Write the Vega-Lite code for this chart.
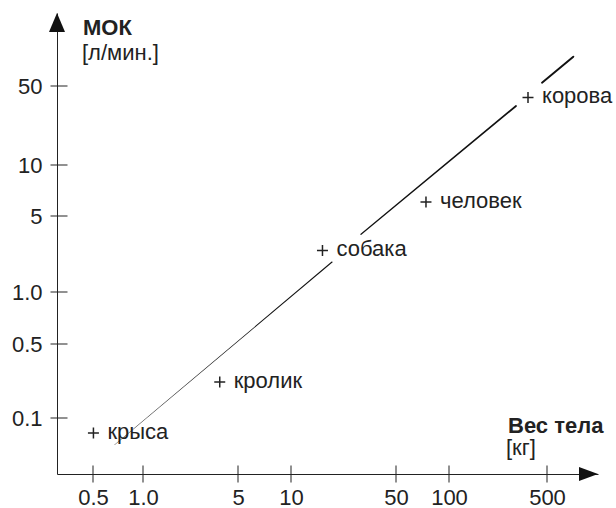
{
  "$schema": "https://vega.github.io/schema/vega-lite/v6.json",
  "width": 541,
  "height": 461,
  "autosize": {"type": "none"},
  "padding": {"left": 57, "top": 13, "right": 18, "bottom": 34},
  "background": "white",
  "config": {
    "view": {"stroke": null},
    "font": "Liberation Sans",
    "axis": {
      "grid": false,
      "ticks": false,
      "tickSize": 0,
      "domainColor": "#222",
      "domainWidth": 1,
      "labelFont": "Liberation Sans",
      "labelFontSize": 22,
      "labelColor": "#222",
      "title": null
    }
  },
  "datasets": {
    "animals": [
      {"name": "крыса", "x": 0.503, "y": 0.0782},
      {"name": "кролик", "x": 3.67, "y": 0.219},
      {"name": "собака", "x": 16.2, "y": 2.41},
      {"name": "человек", "x": 74, "y": 6.05},
      {"name": "корова", "x": 366, "y": 39.6}
    ],
    "line": [
      {"seg": 1, "x": 0.674, "y": 0.0643},
      {"seg": 1, "x": 18.75, "y": 1.888},
      {"seg": 2, "x": 29.24, "y": 3.393},
      {"seg": 2, "x": 300.5, "y": 33.27},
      {"seg": 3, "x": 460.6, "y": 53.2},
      {"seg": 3, "x": 714.9, "y": 87.2}
    ],
    "xticks": [{"x": 0.5}, {"x": 1}, {"x": 5}, {"x": 10}, {"x": 50}, {"x": 100}, {"x": 500}],
    "yticks": [{"y": 0.1}, {"y": 0.5}, {"y": 1}, {"y": 5}, {"y": 10}, {"y": 50}]
  },
  "layer": [
    {
      "data": {"name": "line"},
      "mark": {"type": "trail", "color": "#111"},
      "encoding": {
        "x": {
          "field": "x",
          "type": "quantitative",
          "scale": {
            "type": "log",
            "nice": false,
            "domain": [0.3, 0.5, 1, 5, 10, 50, 100, 500, 1000],
            "range": [0, 36, 86, 181, 234, 339, 392, 490, 541]
          },
          "axis": {
            "values": [0.5, 1, 5, 10, 50, 100, 500],
            "labelExpr": "datum.value == 1 ? '1.0' : datum.value + ''",
            "labelPadding": 13,
            "labelFlush": false,
            "labelOverlap": false
          }
        },
        "y": {
          "field": "y",
          "type": "quantitative",
          "scale": {
            "type": "log",
            "nice": false,
            "domain": [0.04, 0.1, 0.5, 1, 5, 10, 50, 200],
            "range": [461, 405, 331, 279, 203, 152, 73, 0]
          },
          "axis": {
            "values": [0.1, 0.5, 1, 5, 10, 50],
            "labelExpr": "datum.value == 1 ? '1.0' : datum.value + ''",
            "labelPadding": 15,
            "labelFlush": false,
            "labelOverlap": false
          }
        },
        "detail": {"field": "seg", "type": "nominal"},
        "size": {
          "field": "x",
          "type": "quantitative",
          "scale": {"type": "log", "domain": [0.674, 714.9], "range": [0.3, 2]},
          "legend": null
        }
      }
    },
    {
      "data": {"name": "xticks"},
      "mark": {"type": "tick", "orient": "vertical", "size": 17, "thickness": 1, "color": "#222", "opacity": 1},
      "encoding": {
        "x": {"field": "x", "type": "quantitative"},
        "y": {"datum": 0.04, "type": "quantitative"}
      }
    },
    {
      "data": {"name": "yticks"},
      "mark": {"type": "tick", "orient": "horizontal", "size": 17, "thickness": 1, "color": "#222", "opacity": 1, "xOffset": 2},
      "encoding": {
        "x": {"datum": 0.3, "type": "quantitative"},
        "y": {"field": "y", "type": "quantitative"}
      }
    },
    {
      "data": {"name": "animals"},
      "mark": {"type": "point", "shape": "M-1,0L1,0M0,-1L0,1", "size": 121, "filled": false, "stroke": "#222", "strokeWidth": 1.5, "opacity": 1},
      "encoding": {
        "x": {"field": "x", "type": "quantitative"},
        "y": {"field": "y", "type": "quantitative"}
      }
    },
    {
      "data": {"name": "animals"},
      "mark": {"type": "text", "align": "left", "baseline": "alphabetic", "dx": 14, "dy": 6, "fontSize": 22, "color": "#222"},
      "encoding": {
        "x": {"field": "x", "type": "quantitative"},
        "y": {"field": "y", "type": "quantitative"},
        "text": {"field": "name", "type": "nominal"}
      }
    },
    {
      "data": {"values": [{}]},
      "mark": {"type": "point", "shape": "M0,0L0.8,1.9L-0.8,1.9Z", "size": 400, "filled": true, "color": "#111", "opacity": 1},
      "encoding": {"x": {"datum": 0.3, "type": "quantitative"}, "y": {"datum": 200, "type": "quantitative"}}
    },
    {
      "data": {"values": [{}]},
      "mark": {"type": "point", "shape": "M0,0L-1.9,-0.7L-1.9,0.7Z", "size": 400, "filled": true, "color": "#111", "opacity": 1},
      "encoding": {"x": {"datum": 1000, "type": "quantitative"}, "y": {"datum": 0.04, "type": "quantitative"}}
    },
    {
      "data": {"values": [{}]},
      "mark": {"type": "text", "text": "МОК", "align": "left", "baseline": "alphabetic", "dx": 26, "dy": 22, "fontSize": 22, "fontWeight": "bold", "color": "#222"},
      "encoding": {"x": {"datum": 0.3, "type": "quantitative"}, "y": {"datum": 200, "type": "quantitative"}}
    },
    {
      "data": {"values": [{}]},
      "mark": {"type": "text", "text": "[л/мин.]", "align": "left", "baseline": "alphabetic", "dx": 25, "dy": 47, "fontSize": 22, "color": "#222"},
      "encoding": {"x": {"datum": 0.3, "type": "quantitative"}, "y": {"datum": 200, "type": "quantitative"}}
    },
    {
      "data": {"values": [{}]},
      "mark": {"type": "text", "text": "Вес тела", "align": "left", "baseline": "alphabetic", "dx": -90, "dy": -41, "fontSize": 22, "fontWeight": "bold", "color": "#222"},
      "encoding": {"x": {"datum": 1000, "type": "quantitative"}, "y": {"datum": 0.04, "type": "quantitative"}}
    },
    {
      "data": {"values": [{}]},
      "mark": {"type": "text", "text": "[кг]", "align": "left", "baseline": "alphabetic", "dx": -92, "dy": -19, "fontSize": 22, "color": "#222"},
      "encoding": {"x": {"datum": 1000, "type": "quantitative"}, "y": {"datum": 0.04, "type": "quantitative"}}
    }
  ]
}
